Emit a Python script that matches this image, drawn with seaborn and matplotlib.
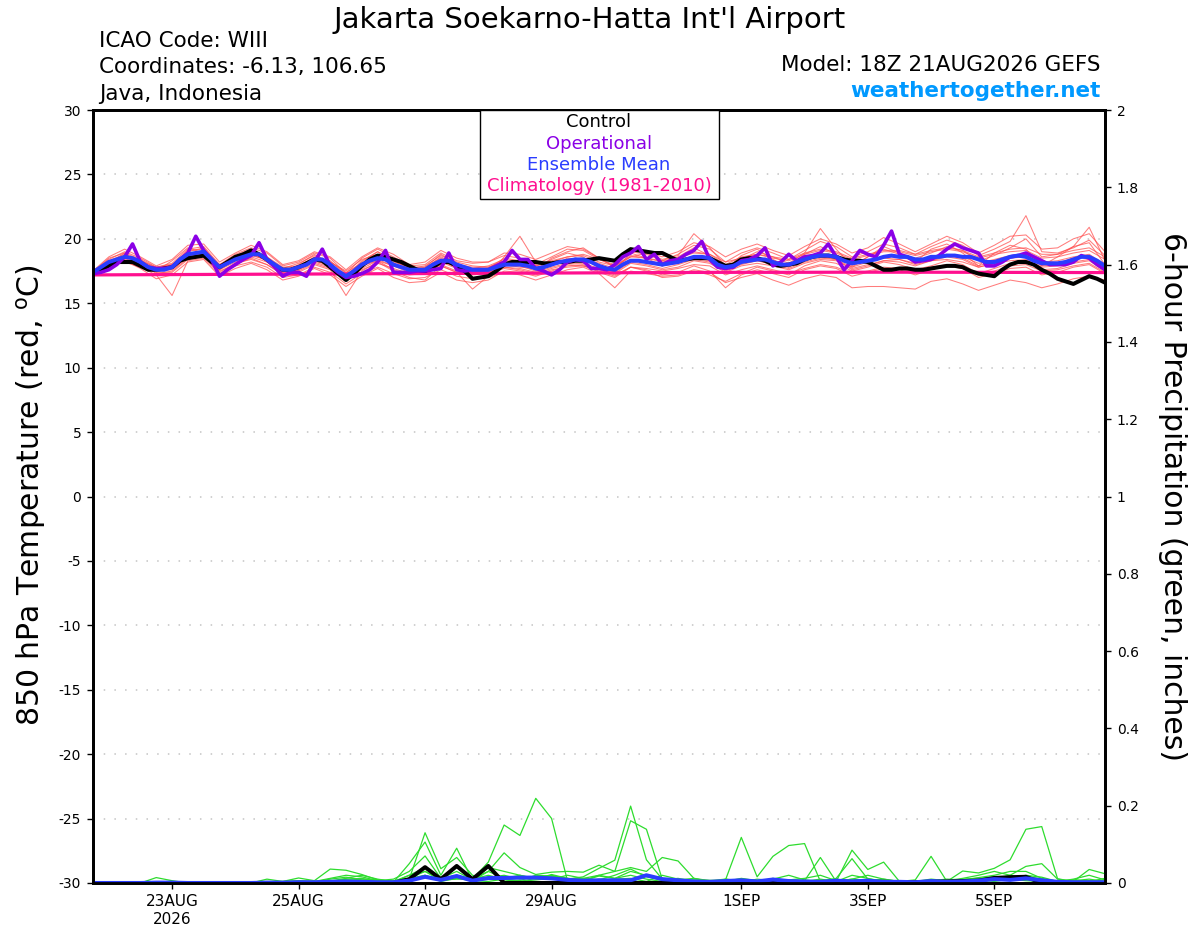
import numpy as np
import pandas as pd
import seaborn as sns
import matplotlib
matplotlib.use('Agg')
import matplotlib.pyplot as plt
from matplotlib.patches import Rectangle

# forecast hours from 18Z 21AUG2026
hours_3h = np.arange(0, 385, 3)
hours_6h = np.arange(0, 385, 6)
hours_clim = np.arange(0, 385, 24)

# 850 hPa temperature, 3-hourly
ctrl_t = [17.4, 17.6, 17.9, 18.2, 18.2, 18.2, 17.9, 17.6,
          17.6, 17.7, 17.8, 18.3, 18.5, 18.6, 18.7, 18.2,
          17.8, 18.2, 18.6, 18.8, 19.1, 18.8, 18.4, 17.9,
          17.6, 17.6, 17.8, 18.1, 18.4, 18.3, 17.8, 17.3,
          16.8, 17.3, 17.9, 18.4, 18.7, 18.6, 18.4, 18.2,
          17.9, 17.6, 17.5, 17.8, 18.2, 18.2, 17.9, 17.5,
          16.9, 17.0, 17.1, 17.5, 18.0, 18.2, 18.2, 18.2,
          18.2, 18.1, 18.1, 18.2, 18.2, 18.3, 18.3, 18.4,
          18.5, 18.4, 18.3, 18.8, 19.2, 19.1, 19.0, 18.9,
          18.9, 18.6, 18.3, 18.4, 18.5, 18.5, 18.5, 18.2,
          17.9, 18.0, 18.4, 18.5, 18.5, 18.3, 18.0, 17.9,
          18.0, 18.1, 18.4, 18.6, 18.7, 18.7, 18.6, 18.4,
          18.3, 18.3, 18.2, 17.9, 17.6, 17.6, 17.7, 17.7,
          17.6, 17.6, 17.7, 17.8, 17.9, 17.9, 17.8, 17.5,
          17.3, 17.2, 17.1, 17.6, 18.0, 18.2, 18.2, 18.0,
          17.6, 17.3, 16.9, 16.7, 16.5, 16.8, 17.1, 16.9,
          16.6]
ops_t = [17.3, 17.4, 17.6, 18.0, 18.6, 19.6, 18.2, 17.8,
         17.7, 17.7, 17.8, 18.4, 18.9, 20.2, 19.1, 18.4,
         17.1, 17.6, 18.0, 18.4, 18.7, 19.7, 18.4, 17.8,
         17.1, 17.4, 17.4, 17.1, 18.2, 19.2, 17.9, 17.4,
         17.0, 17.1, 17.3, 17.6, 18.2, 19.1, 17.4, 17.4,
         17.4, 17.5, 17.5, 17.6, 17.7, 18.9, 17.6, 17.5,
         17.6, 17.6, 17.6, 17.9, 18.2, 19.1, 18.4, 18.4,
         17.7, 17.5, 17.2, 17.6, 18.2, 18.4, 18.3, 17.7,
         17.7, 17.6, 18.0, 18.6, 18.9, 19.4, 18.4, 18.8,
         18.0, 18.3, 18.4, 18.8, 19.1, 19.8, 18.4, 17.8,
         17.7, 17.8, 18.3, 18.4, 18.7, 19.3, 17.9, 18.2,
         18.8, 18.3, 18.6, 18.7, 18.9, 19.6, 18.6, 17.6,
         18.3, 19.1, 18.8, 18.6, 19.5, 20.6, 18.8, 18.6,
         18.2, 18.3, 18.4, 18.7, 19.2, 19.6, 19.3, 19.1,
         18.9, 17.9, 17.9, 18.2, 18.6, 18.7, 18.9, 18.6,
         18.3, 18.0, 18.0, 18.0, 18.2, 18.7, 18.5, 18.0,
         17.6]
mean_t = [17.4, 17.8, 18.2, 18.4, 18.6, 18.5, 18.2, 17.8,
          17.6, 17.6, 17.8, 18.4, 18.8, 18.9, 19.0, 18.4,
          17.8, 18.1, 18.4, 18.6, 18.8, 18.8, 18.4, 18.0,
          17.6, 17.6, 17.8, 18.0, 18.4, 18.4, 18.0, 17.5,
          17.1, 17.5, 18.0, 18.3, 18.5, 18.4, 18.0, 17.8,
          17.6, 17.6, 17.6, 18.0, 18.3, 18.3, 18.0, 17.8,
          17.6, 17.6, 17.6, 17.8, 18.0, 18.0, 18.0, 17.9,
          17.7, 17.8, 18.0, 18.2, 18.3, 18.4, 18.4, 18.2,
          17.9, 17.7, 17.6, 18.0, 18.3, 18.3, 18.2, 18.1,
          18.0, 18.1, 18.2, 18.4, 18.6, 18.6, 18.5, 18.0,
          17.8, 17.9, 18.2, 18.3, 18.4, 18.4, 18.2, 18.0,
          18.0, 18.2, 18.4, 18.6, 18.7, 18.7, 18.6, 18.3,
          18.1, 18.2, 18.3, 18.4, 18.6, 18.7, 18.6, 18.6,
          18.4, 18.4, 18.6, 18.6, 18.7, 18.7, 18.6, 18.6,
          18.4, 18.2, 18.2, 18.4, 18.6, 18.7, 18.6, 18.3,
          18.1, 18.1, 18.1, 18.2, 18.4, 18.6, 18.6, 18.3,
          17.9]
clim_t = [17.2, 17.22, 17.24, 17.26, 17.28, 17.3, 17.32, 17.34, 17.36,
          17.38, 17.4, 17.4, 17.41, 17.41, 17.4, 17.39, 17.38]

# ensemble members, 6-hourly
red_members = [
    [17.5, 18.4, 19.0, 18.5, 17.8, 18.1, 19.2, 19.4, 18.0, 18.8, 19.3, 18.9, 17.9,
     18.2, 18.9, 18.5, 17.3, 18.5, 19.2, 18.6, 17.9, 18.0, 18.9, 18.3, 18.1, 18.2,
     18.7, 18.5, 18.0, 18.6, 19.2, 19.1, 18.4, 18.0, 19.0, 18.8, 18.3, 18.8, 19.5,
     19.2, 18.2, 18.9, 19.3, 18.9, 18.4, 19.1, 19.8, 19.4, 18.6, 19.0, 19.6, 19.3,
     18.8, 19.4, 19.9, 19.5, 18.7, 19.2, 19.8, 21.8, 19.0, 18.9, 19.3, 19.9, 18.7],
    [17.3, 17.9, 18.2, 17.8, 17.2, 15.6, 18.3, 18.5, 17.3, 17.9, 18.2, 17.8, 17.0,
     17.2, 17.8, 17.4, 16.5, 17.3, 17.8, 17.3, 16.9, 17.0, 17.6, 17.1, 16.9, 17.0,
     17.4, 17.2, 16.8, 17.2, 17.6, 17.8, 17.3, 16.2, 17.5, 17.3, 17.1, 17.2, 17.6,
     17.4, 16.6, 17.0, 17.3, 16.8, 16.4, 16.9, 17.2, 17.0, 16.2, 16.3, 16.3, 16.2,
     16.1, 16.7, 16.9, 16.5, 16.0, 16.4, 16.8, 16.6, 16.2, 16.5, 16.9, 17.1, 16.8],
    [17.2, 18.0, 18.5, 18.0, 17.5, 17.6, 18.6, 18.9, 17.6, 18.2, 18.6, 18.2, 17.4,
     17.6, 18.2, 17.8, 16.8, 17.7, 18.3, 17.6, 17.2, 17.3, 18.0, 17.5, 17.3, 17.4,
     17.8, 17.7, 17.4, 17.8, 18.1, 18.1, 17.7, 17.3, 18.1, 17.9, 17.6, 17.8, 18.3,
     18.1, 17.4, 17.9, 18.1, 17.9, 17.6, 18.1, 18.4, 18.3, 17.7, 18.0, 18.3, 18.2,
     17.9, 18.3, 18.4, 18.2, 17.8, 18.1, 18.3, 18.4, 17.8, 17.9, 18.2, 18.4, 17.7],
    [17.4, 18.3, 18.8, 18.3, 17.8, 18.0, 19.0, 19.3, 17.9, 18.5, 19.0, 18.5, 17.7,
     18.1, 18.7, 18.2, 17.5, 18.4, 18.8, 18.3, 17.7, 17.9, 18.7, 18.2, 17.9, 17.8,
     18.3, 18.1, 17.9, 18.3, 18.6, 18.7, 18.2, 17.9, 18.7, 18.5, 18.2, 18.5, 19.0,
     18.8, 18.0, 18.6, 18.8, 18.5, 18.3, 18.8, 19.1, 18.9, 18.4, 18.7, 19.0, 19.0,
     18.7, 19.0, 19.2, 19.0, 18.5, 18.8, 19.0, 19.1, 18.5, 18.6, 18.9, 19.1, 18.4],
    [17.6, 18.1, 18.9, 18.4, 17.4, 17.9, 19.1, 19.2, 17.7, 18.6, 19.1, 18.6, 17.6,
     17.9, 18.6, 18.3, 17.2, 18.2, 19.0, 18.4, 17.8, 17.7, 18.6, 18.0, 17.7, 17.9,
     18.4, 18.2, 17.6, 18.5, 19.0, 19.3, 18.5, 17.8, 18.6, 18.9, 18.4, 18.7, 20.4,
     19.3, 17.9, 18.4, 19.0, 18.6, 18.1, 18.9, 20.8, 19.2, 17.9, 18.6, 19.2, 18.8,
     18.5, 18.9, 19.4, 19.1, 18.3, 18.7, 19.3, 20.0, 18.6, 18.8, 19.4, 20.9, 18.3],
    [17.3, 17.8, 18.4, 18.1, 17.3, 17.5, 18.5, 18.8, 17.5, 18.0, 18.5, 18.0, 17.2,
     17.4, 18.0, 17.6, 15.6, 17.5, 18.2, 17.5, 17.0, 16.8, 17.9, 17.4, 16.1, 17.1,
     18.6, 20.2, 18.2, 18.0, 18.4, 18.4, 17.9, 17.4, 18.2, 18.0, 17.7, 18.0, 18.4,
     18.2, 17.5, 18.0, 18.3, 18.0, 17.7, 18.2, 18.5, 18.4, 17.8, 18.2, 18.5, 18.4,
     18.1, 18.5, 18.7, 18.5, 17.9, 18.3, 18.6, 18.7, 18.0, 18.1, 18.5, 18.7, 17.9],
    [17.5, 18.1, 18.6, 18.2, 17.7, 17.9, 18.9, 19.0, 17.8, 18.3, 18.8, 18.3, 17.5,
     17.7, 18.4, 18.0, 17.0, 17.9, 18.4, 17.9, 17.4, 17.5, 18.2, 17.7, 17.4, 17.5,
     17.8, 17.6, 17.3, 17.7, 18.0, 17.9, 17.5, 17.1, 17.8, 17.6, 17.2, 17.4, 17.9,
     17.5, 16.2, 17.2, 17.6, 17.3, 17.0, 17.6, 17.9, 17.7, 17.1, 17.4, 17.7, 17.6,
     17.2, 17.6, 17.9, 17.7, 17.0, 17.3, 17.7, 17.8, 17.2, 17.4, 17.8, 18.0, 17.3],
    [17.3, 18.2, 18.7, 18.4, 17.7, 18.0, 18.8, 19.1, 18.0, 18.5, 18.9, 18.6, 17.8,
     17.9, 18.5, 18.2, 17.4, 18.1, 18.6, 18.2, 17.8, 17.8, 18.5, 18.0, 17.8, 17.8,
     18.2, 18.0, 17.9, 18.2, 18.6, 18.8, 18.4, 17.9, 18.6, 18.5, 18.3, 18.5, 18.9,
     18.8, 18.2, 18.5, 18.8, 18.6, 18.4, 18.9, 19.2, 19.0, 18.5, 18.8, 19.1, 19.1,
     18.8, 19.1, 19.3, 19.1, 18.6, 18.9, 19.2, 19.3, 18.8, 18.8, 19.1, 19.3, 18.6],
    [17.2, 17.9, 18.3, 17.9, 17.4, 17.4, 18.4, 18.6, 17.4, 18.1, 18.4, 18.0, 17.3,
     17.5, 18.1, 17.7, 16.9, 17.6, 18.1, 17.7, 17.3, 17.4, 17.9, 17.4, 17.2, 17.3,
     17.7, 17.5, 17.2, 17.6, 17.8, 17.9, 17.6, 17.2, 17.8, 17.7, 17.5, 17.7, 18.0,
     17.9, 17.2, 17.6, 17.9, 17.6, 17.3, 17.7, 18.0, 17.8, 17.3, 17.5, 17.8, 17.7,
     17.4, 17.8, 18.0, 17.7, 17.2, 17.5, 17.9, 18.0, 17.5, 17.6, 17.9, 18.1, 17.4],
    [17.4, 18.5, 18.9, 18.0, 17.5, 18.3, 19.3, 18.9, 17.6, 18.7, 19.2, 18.2, 17.4,
     18.0, 18.8, 18.1, 17.0, 18.3, 19.0, 18.1, 17.5, 17.8, 18.8, 18.1, 17.5, 17.7,
     18.5, 18.3, 17.6, 18.4, 18.9, 18.6, 17.8, 17.6, 18.9, 18.5, 17.9, 18.6, 19.3,
     18.7, 17.6, 18.7, 19.2, 18.4, 17.8, 18.8, 19.4, 18.8, 17.8, 18.6, 19.4, 18.9,
     18.2, 19.2, 19.6, 18.9, 17.9, 18.9, 19.5, 19.2, 17.9, 18.6, 19.4, 19.7, 18.0],
    [17.3, 18.0, 18.5, 18.2, 17.6, 17.7, 18.7, 18.9, 17.8, 18.3, 18.7, 18.4, 17.6,
     17.8, 18.3, 18.0, 17.1, 17.9, 18.3, 17.9, 17.6, 17.6, 18.3, 17.8, 17.6, 17.6,
     18.0, 17.8, 17.7, 18.0, 18.4, 18.5, 18.1, 17.7, 18.4, 18.2, 18.0, 18.2, 18.6,
     18.5, 17.8, 18.2, 18.5, 18.3, 18.0, 18.4, 18.7, 18.6, 18.1, 18.3, 18.6, 18.6,
     18.3, 18.6, 18.8, 18.6, 18.1, 18.4, 18.7, 18.8, 18.2, 18.3, 18.6, 18.8, 18.0],
    [17.4, 17.8, 18.3, 17.7, 16.9, 17.2, 18.2, 18.4, 17.1, 17.7, 18.1, 17.6, 16.8,
     17.1, 17.7, 17.2, 16.3, 17.1, 17.7, 17.0, 16.6, 16.7, 17.4, 16.8, 16.6, 16.8,
     17.5, 17.4, 17.1, 17.5, 17.9, 18.0, 17.4, 17.0, 17.8, 17.5, 17.0, 17.1, 17.5,
     17.2, 16.7, 17.3, 17.8, 17.5, 17.2, 17.9, 18.3, 18.1, 17.5, 17.8, 18.2, 18.0,
     17.6, 17.9, 18.3, 18.0, 17.3, 17.7, 18.1, 18.3, 17.6, 17.7, 18.1, 18.3, 17.5],
    [17.5, 18.6, 19.2, 18.6, 17.9, 18.4, 19.5, 19.6, 18.2, 18.9, 19.5, 19.0, 18.0,
     18.3, 19.0, 18.6, 17.6, 18.6, 19.3, 18.8, 18.0, 18.2, 19.1, 18.5, 18.2, 18.2,
     18.9, 18.8, 18.4, 18.9, 19.4, 19.2, 18.5, 18.2, 19.2, 19.0, 18.6, 19.0, 19.7,
     19.4, 18.6, 19.2, 19.6, 19.1, 18.7, 19.4, 20.0, 19.6, 18.9, 19.3, 20.1, 19.6,
     19.0, 19.6, 20.2, 19.7, 18.9, 19.5, 20.2, 20.3, 19.2, 19.3, 20.0, 20.4, 19.0],
    [17.4, 18.0, 18.6, 18.3, 17.6, 17.7, 18.6, 18.8, 17.6, 18.4, 18.9, 18.3, 17.3,
     17.6, 18.3, 17.9, 17.2, 18.0, 18.6, 18.1, 17.5, 17.4, 18.2, 17.9, 17.5, 17.4,
     17.9, 17.9, 17.5, 17.9, 18.5, 18.4, 17.8, 17.5, 18.3, 18.2, 17.9, 18.1, 18.5,
     18.3, 17.7, 18.1, 18.3, 18.1, 17.8, 18.4, 18.6, 18.4, 17.6, 17.9, 18.3, 18.4,
     18.0, 18.3, 18.6, 18.4, 17.8, 18.1, 18.5, 18.6, 17.9, 18.0, 18.5, 18.6, 17.6],
]

# 6-hour precipitation (inches)
ctrl_p = [0, 0, 0, 0, 0, 0, 0, 0, 0, 0, 0, 0, 0,
          0, 0, 0, 0, 0, 0, 0, 0.01, 0.041, 0.01, 0.044, 0.01, 0.044,
          0, 0, 0, 0, 0, 0, 0, 0, 0, 0, 0, 0, 0,
          0, 0, 0, 0, 0, 0, 0, 0, 0, 0, 0.002, 0.003, 0.002,
          0.002, 0.003, 0.004, 0.005, 0.006, 0.013, 0.015, 0.016, 0, 0, 0, 0, 0]
mean_p = [0, 0, 0, 0, 0.001, 0.001, 0, 0, 0, 0, 0, 0.001, 0.001,
          0.002, 0.002, 0.003, 0.004, 0.003, 0.002, 0.002, 0.006, 0.016, 0.008, 0.018, 0.006, 0.013,
          0.013, 0.014, 0.014, 0.012, 0.008, 0.006, 0.007, 0.007, 0.007, 0.02, 0.01, 0.007, 0.004,
          0.003, 0.005, 0.007, 0.004, 0.009, 0.005, 0.004, 0.003, 0.006, 0.004, 0.006, 0.003, 0.003,
          0.002, 0.005, 0.003, 0.004, 0.006, 0.01, 0.008, 0.012, 0.007, 0.003, 0.002, 0.002, 0.002]
green_members = [
    [0, 0, 0, 0, 0, 0, 0, 0, 0, 0, 0, 0.002, 0.004,
     0.006, 0.003, 0.01, 0.015, 0.008, 0.002, 0.004, 0.02, 0.03, 0.012, 0.02, 0.01, 0.054,
     0.15, 0.123, 0.219, 0.167, 0.007, 0.004, 0.01, 0.006, 0.002, 0.02, 0.01, 0.004, 0.002,
     0, 0.01, 0.004, 0.002, 0.008, 0.004, 0.002, 0, 0.01, 0.003, 0.006, 0.004, 0.002,
     0, 0.004, 0.002, 0.006, 0.004, 0.01, 0.02, 0.043, 0.05, 0.01, 0.004, 0.006, 0.004],
    [0, 0, 0, 0, 0, 0, 0, 0, 0, 0, 0, 0, 0,
     0.002, 0, 0.005, 0.012, 0.02, 0.01, 0.004, 0.01, 0.13, 0.037, 0.066, 0.02, 0.01,
     0.008, 0.004, 0.012, 0.02, 0.01, 0.016, 0.038, 0.059, 0.199, 0.06, 0.01, 0.005, 0.003,
     0.002, 0.006, 0.01, 0.004, 0.008, 0.003, 0.002, 0.006, 0.004, 0.01, 0.02, 0.01, 0.004,
     0.002, 0.006, 0.004, 0.008, 0.01, 0.006, 0.012, 0.02, 0.015, 0.004, 0.002, 0.006, 0.004],
    [0, 0, 0, 0, 0.014, 0.006, 0, 0, 0, 0, 0, 0, 0,
     0, 0, 0.004, 0.008, 0.006, 0.003, 0.002, 0.05, 0.106, 0.02, 0.09, 0.006, 0.03,
     0.078, 0.04, 0.022, 0.028, 0.03, 0.028, 0.046, 0.03, 0.161, 0.139, 0.01, 0.004, 0.002,
     0.004, 0.008, 0.002, 0.01, 0.006, 0.004, 0.002, 0.008, 0.004, 0.01, 0.006, 0.002, 0.004,
     0.002, 0.004, 0.002, 0.006, 0.008, 0.004, 0.01, 0.006, 0.004, 0.002, 0.003, 0.006, 0.004],
    [0, 0, 0, 0, 0, 0, 0, 0, 0, 0, 0, 0.01, 0.004,
     0.013, 0.006, 0.036, 0.033, 0.022, 0.008, 0.004, 0.012, 0.02, 0.008, 0.01, 0.01, 0.02,
     0.01, 0.006, 0.02, 0.018, 0.012, 0.01, 0.006, 0.01, 0.012, 0.004, 0.02, 0.01, 0.007,
     0.003, 0.008, 0.118, 0.016, 0.069, 0.097, 0.102, 0.004, 0.01, 0.003, 0.006, 0.01, 0.004,
     0.002, 0.004, 0.003, 0.006, 0.004, 0.01, 0.012, 0.01, 0.006, 0.004, 0.008, 0.004, 0.003],
    [0, 0, 0, 0, 0, 0, 0, 0, 0, 0, 0, 0, 0,
     0, 0, 0.002, 0.006, 0.01, 0.008, 0.004, 0.006, 0.02, 0.004, 0.012, 0.006, 0.004,
     0.01, 0.004, 0.008, 0.012, 0.01, 0.006, 0.02, 0.012, 0.03, 0.02, 0.006, 0.004, 0.008,
     0.007, 0.004, 0.012, 0.006, 0.01, 0.008, 0.006, 0.066, 0.004, 0.085, 0.035, 0.054, 0.004,
     0.008, 0.069, 0.004, 0.031, 0.026, 0.038, 0.06, 0.139, 0.146, 0.011, 0.004, 0.035, 0.024],
    [0, 0, 0, 0, 0, 0, 0, 0, 0, 0, 0, 0.004, 0.002,
     0.006, 0.004, 0.012, 0.02, 0.016, 0.006, 0.01, 0.03, 0.07, 0.012, 0.03, 0.008, 0.04,
     0.03, 0.02, 0.012, 0.016, 0.008, 0.012, 0.02, 0.03, 0.04, 0.03, 0.066, 0.057, 0.012,
     0.006, 0.01, 0.006, 0.004, 0.01, 0.02, 0.008, 0.004, 0.012, 0.063, 0.01, 0.006, 0.003,
     0.004, 0.01, 0.006, 0.012, 0.02, 0.03, 0.02, 0.012, 0.006, 0.004, 0.01, 0.02, 0.008],
    [0, 0, 0, 0, 0, 0, 0, 0, 0, 0, 0, 0, 0,
     0, 0.002, 0.004, 0.01, 0.012, 0.004, 0.002, 0.02, 0.04, 0.01, 0.04, 0.012, 0.03,
     0.012, 0.02, 0.01, 0.022, 0.012, 0.006, 0.018, 0.012, 0.02, 0.01, 0.004, 0.008, 0.012,
     0.004, 0.002, 0.01, 0.006, 0.004, 0.008, 0.012, 0.02, 0.006, 0.004, 0.01, 0.006, 0.002,
     0.004, 0.006, 0.01, 0.008, 0.014, 0.02, 0.03, 0.03, 0.012, 0.004, 0.006, 0.01, 0.004],
    [0, 0, 0, 0, 0, 0, 0, 0, 0, 0, 0, 0, 0,
     0, 0, 0.002, 0.004, 0.006, 0.002, 0.006, 0.012, 0.03, 0.006, 0.02, 0.004, 0.014,
     0.02, 0.01, 0.016, 0.01, 0.02, 0.012, 0.008, 0.02, 0.036, 0.016, 0.008, 0.012, 0.004,
     0.002, 0.004, 0.006, 0.002, 0.012, 0.006, 0.004, 0.01, 0.004, 0.02, 0.012, 0.004, 0.006,
     0.002, 0.006, 0.004, 0.01, 0.012, 0.016, 0.012, 0.018, 0.01, 0.004, 0.008, 0.004, 0.012],
]

tick_hours = [30, 78, 126, 174, 246, 294, 342]
tick_labels = ['23AUG\n2026', '25AUG', '27AUG', '29AUG', '1SEP', '3SEP', '5SEP']
precip_ticks = [0, 0.2, 0.4, 0.6, 0.8, 1.0, 1.2, 1.4, 1.6, 1.8, 2.0]

sns.set_style('ticks', rc={'axes.edgecolor': 'black', 'text.color': 'black',
                           'xtick.color': 'black', 'ytick.color': 'black'})
plt.rcParams['font.family'] = ['DejaVu Sans']
plt.rcParams['axes.unicode_minus'] = False

RED = '#ff4a4a'
GREEN = '#2edc2e'
PURPLE = '#8a00e6'
BLUE = '#2a3cff'
PINK = '#ff0f8f'

# long tables for the members
rows = []
for m, vals in enumerate(red_members):
    for h, v in zip(hours_6h, vals):
        rows.append((m, h, v))
df_red = pd.DataFrame(rows, columns=['member', 'hour', 'value'])
rows = []
for m, vals in enumerate(green_members):
    for h, v in zip(hours_6h, vals):
        rows.append((m, h, v))
df_green = pd.DataFrame(rows, columns=['member', 'hour', 'value'])

fig = plt.figure(figsize=(12, 9.27), dpi=100)
ax = fig.add_axes([93 / 1200, 1 - 883 / 927, 1012 / 1200, 773 / 927])
ax2 = ax.twinx()

# temperature
sns.lineplot(data=df_red, x='hour', y='value', units='member', estimator=None,
             color=RED, lw=0.75, alpha=0.72, ax=ax)
sns.lineplot(x=hours_clim, y=clim_t, color=PINK, lw=2.3, ax=ax)
sns.lineplot(x=hours_3h, y=ctrl_t, color='black', lw=2.9, ax=ax)
sns.lineplot(x=hours_3h, y=ops_t, color=PURPLE, lw=2.6, ax=ax)
sns.lineplot(x=hours_3h, y=mean_t, color=BLUE, lw=2.9, ax=ax)

# precipitation
sns.lineplot(data=df_green, x='hour', y='value', units='member', estimator=None,
             color=GREEN, lw=0.9, ax=ax2)
sns.lineplot(x=hours_6h, y=ctrl_p, color='black', lw=2.9, ax=ax2)
sns.lineplot(x=hours_6h, y=mean_p, color=BLUE, lw=2.9, ax=ax2)

ax.set_xlim(0, 384)
ax.set_ylim(-30, 30)
ax2.set_ylim(0, 2)
ax.set_yticks(range(-30, 31, 5))
ax.set_xticks(tick_hours, tick_labels)
ax2.set_yticks(precip_ticks, [f'{v:g}' for v in precip_ticks])
ax.set_xlabel('')
ax.set_ylabel('')
ax2.set_xlabel('')
ax2.set_ylabel('')

ax.grid(axis='y', color='#c4c4c4', lw=1.1, linestyle=(0, (1, 6)))
ax.tick_params(axis='y', direction='out', length=4.5, width=1, pad=4, labelsize=10)
ax.tick_params(axis='x', direction='out', length=4, width=1, pad=4, labelsize=11)
ax2.tick_params(axis='y', direction='out', length=4.5, width=1, pad=4, labelsize=10)
for a in (ax, ax2):
    for s in a.spines.values():
        s.set_visible(True)
        s.set_linewidth(2.0)
        s.set_color('black')

# legend box
ax2.add_patch(Rectangle((0.3824, 0.8849), 0.2362, 0.1151, transform=ax2.transAxes,
                        facecolor='white', edgecolor='black', lw=1, zorder=5))
legend_items = [('Control', 'black', 0.9774), ('Operational', PURPLE, 0.9496),
                ('Ensemble Mean', BLUE, 0.9224), ('Climatology (1981-2010)', PINK, 0.8952)]
for txt, col, yy in legend_items:
    ax2.text(0.5, yy, txt, color=col, fontsize=13, ha='center', va='baseline',
             transform=ax2.transAxes, zorder=6)

# header texts
fig.text(0.4913, 1 - 28.5 / 927, "Jakarta Soekarno-Hatta Int'l Airport", fontsize=21,
         ha='center', va='baseline')
fig.text(98.7 / 1200, 1 - 46.7 / 927, 'ICAO Code: WIII', fontsize=15.5, va='baseline')
fig.text(98.7 / 1200, 1 - 72.7 / 927, 'Coordinates: -6.13, 106.65', fontsize=15.5, va='baseline')
fig.text(98.7 / 1200, 1 - 100 / 927, 'Java, Indonesia', fontsize=15.5, va='baseline')
fig.text(1100.6 / 1200, 1 - 70.7 / 927, 'Model: 18Z 21AUG2026 GEFS', fontsize=15.5,
         ha='right', va='baseline')
fig.text(1100.6 / 1200, 1 - 96.7 / 927, 'weathertogether.net', fontsize=15.5,
         fontweight='bold', color='#0099ff', ha='right', va='baseline')

fig.text(31 / 1200, 1 - 495 / 927, r'850 hPa Temperature (red, $^{\mathrm{o}}$C)',
         fontsize=21.5, rotation=90, ha='center', va='center')
fig.text(1172 / 1200, 1 - 496 / 927, '6-hour Precipitation (green, inches)',
         fontsize=21.5, rotation=270, ha='center', va='center')

fig.savefig('out.png', dpi=100)
